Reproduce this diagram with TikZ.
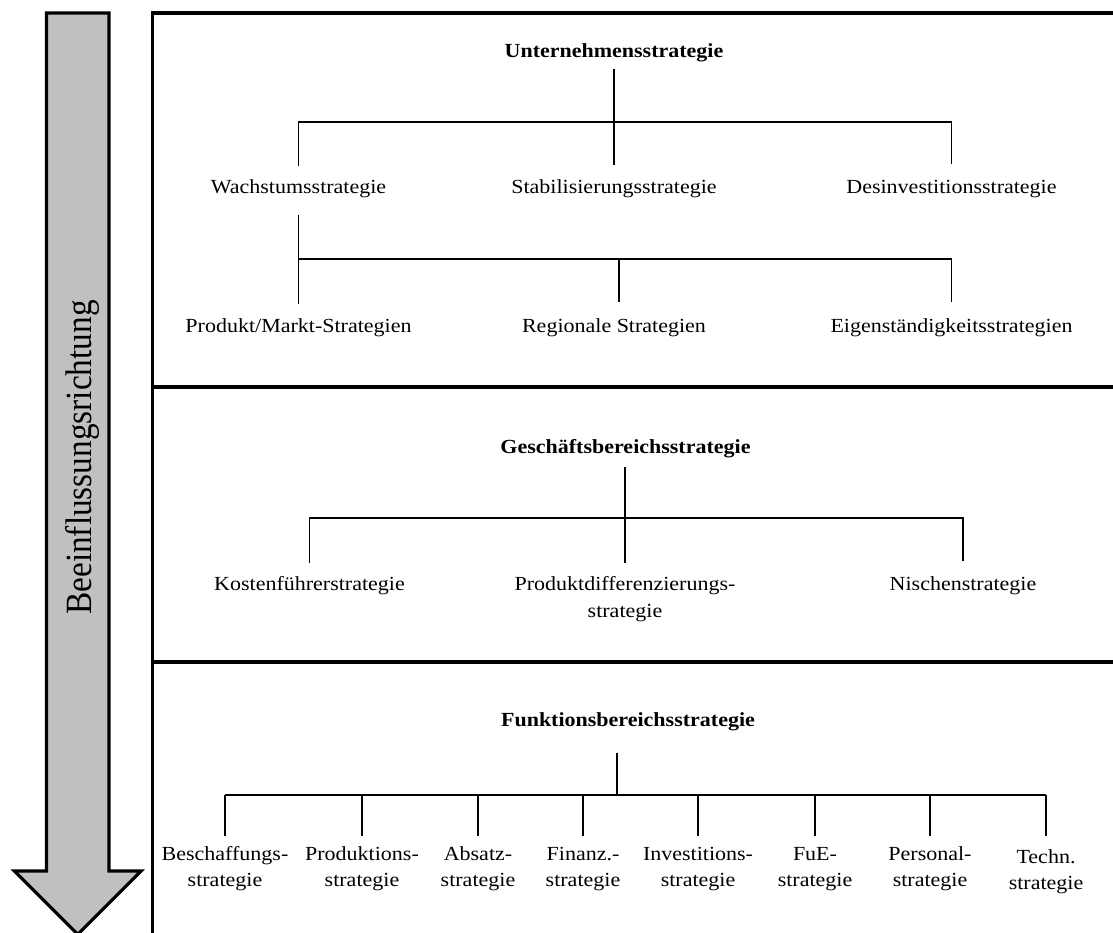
\documentclass[tikz,border=0pt]{standalone}
\usepackage{fontspec}
\setmainfont{Liberation Serif}[FakeStretch=1.1]
\newfontfamily\dirfont{Liberation Serif}[FakeStretch=0.9]
\definecolor{arrowgray}{HTML}{C0C0C0}
\newcommand{\twoln}[2]{\begin{tabular}[t]{@{}c@{}}#1\\#2\end{tabular}}
\tikzset{
  lbl/.style={anchor=base, inner sep=0pt, font=\fontsize{20}{26.5}\selectfont},
  ttl/.style={anchor=base, inner sep=0pt, font=\fontsize{20}{26.5}\selectfont\bfseries},
  conn/.style={line width=1.6pt},
  frameline/.style={line width=3.3pt},
  bigarrow/.style={line width=3.2pt, fill=arrowgray, miter limit=10},
}
\begin{document}
\begin{tikzpicture}[x=1pt,y=-1pt]
\useasboundingbox (0,0) rectangle (1113,932);
\clip (0,0) rectangle (1113,932);
% direction arrow
\draw[bigarrow] (46.5,13) -- (109,13) -- (109,871) -- (141,871) -- (77.75,934.25) -- (14.5,871) -- (46.5,871) -- cycle;
\node[rotate=90, anchor=base, inner sep=0pt, font=\dirfont\fontsize{37}{40}\selectfont] (dir) at (91.5,457.5) {Beeinflussungsrichtung};
% frame
\draw[frameline] (1125,13) -- (152.5,13) -- (152.5,945);
\draw[frameline] (152.5,387) -- (1125,387);
\draw[frameline] (152.5,662) -- (1125,662);
% --- Unternehmensstrategie
\node[ttl] (u) at (614,57) {Unternehmensstrategie};
\node[lbl] (w) at (298.5,193) {Wachstumsstrategie};
\node[lbl] (s) at (614,193) {Stabilisierungsstrategie};
\node[lbl] (d) at (951.5,193) {Desinvestitionsstrategie};
\node[lbl] (p) at (298.5,332) {Produkt/Markt-Strategien};
\node[lbl] (r) at (614,332) {Regionale Strategien};
\node[lbl] (e) at (951.5,332) {Eigenständigkeitsstrategien};
\coordinate (b1) at (614,122);
\coordinate (b2) at (614,259);
\coordinate (rx) at (619,332);
\draw[conn] ([yshift=-12pt]u.base) -- ([yshift=28pt]s.base);
\draw[conn] ([yshift=27pt]w.base) -- (w.base |- b1) -- (d.base |- b1) -- ([yshift=29pt]d.base);
\draw[conn] ([yshift=-22pt]w.base) -- ([yshift=28pt]p.base);
\draw[conn] (w.base |- b2) -- (d.base |- b2) -- ([yshift=30pt]e.base);
\draw[conn] (rx |- b2) -- ([yshift=30pt]rx);
% --- Geschaeftsbereichsstrategie
\node[ttl] (g) at (625.5,453.3) {Geschäftsbereichsstrategie};
\node[lbl] (k) at (309.5,590.7) {Kostenführerstrategie};
\node[lbl] (pd) at (625,590.7) {\twoln{Produktdifferenzierungs-}{strategie}};
\node[lbl] (n) at (963,590.7) {Nischenstrategie};
\coordinate (b3) at (625,518);
\draw[conn] ([yshift=-14pt,xshift=-0.5pt]g.base) -- ([yshift=28pt]pd.base);
\draw[conn] ([yshift=28pt]k.base) -- (k.base |- b3) -- (n.base |- b3) -- ([yshift=30pt]n.base);
% --- Funktionsbereichsstrategie
\node[ttl] (f) at (628,726.7) {Funktionsbereichsstrategie};
\node[lbl] (f1) at (225,860) {\twoln{Beschaffungs-}{strategie}};
\node[lbl] (f2) at (362,860) {\twoln{Produktions-}{strategie}};
\node[lbl] (f3) at (478,860) {\twoln{Absatz-}{strategie}};
\node[lbl] (f4) at (583,860) {\twoln{Finanz.-}{strategie}};
\node[lbl] (f5) at (698,860) {\twoln{Investitions-}{strategie}};
\node[lbl] (f6) at (815,860) {\twoln{FuE-}{strategie}};
\node[lbl] (f7) at (930,860) {\twoln{Personal-}{strategie}};
\node[lbl] (f8) at (1046,863) {\twoln{Techn.}{strategie}};
\coordinate (b4) at (617,795);
\draw[conn] ([xshift=-11pt,yshift=-26pt]f.base) -- (b4);
\draw[conn] (f1.base |- b4) -- (f8.base |- b4);
\foreach \i in {1,...,7} {\draw[conn] (f\i.base |- b4) -- ([yshift=24pt]f\i.base);}
\draw[conn] (f8.base |- b4) -- ([yshift=27pt]f8.base);
\end{tikzpicture}
\end{document}
